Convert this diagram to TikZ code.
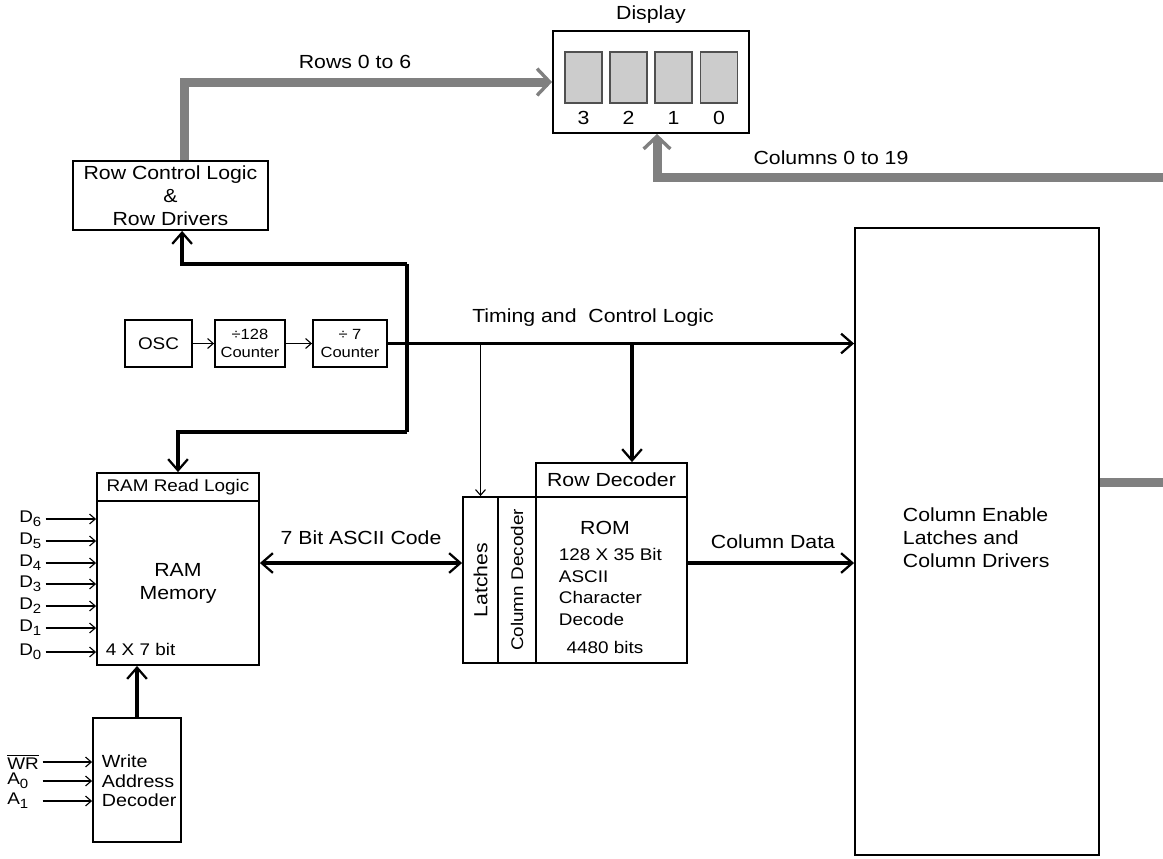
\documentclass[tikz,border=0pt]{standalone}
\usepackage{fontspec}
\setmainfont{Liberation Sans}[FakeStretch=1.12]
\usetikzlibrary{arrows.meta,positioning}
\definecolor{busGrey}{HTML}{808080}
\definecolor{segFill}{HTML}{CCCCCC}
\definecolor{segLine}{HTML}{505050}
\newcommand\lowidx[1]{\raisebox{-0.45ex}{\fontsize{9.5}{9.5}\selectfont #1}}

\begin{document}
\begin{tikzpicture}[
  x=0.025cm,y=-0.025cm,font=\fontsize{13.5}{16.4}\selectfont,
  bustip/.tip={Straight Barb[length=8pt,width=14pt,line width=1.6pt 0]},
  greytip/.tip={Straight Barb[length=9pt,width=19pt,line width=2.4pt 0]},
  sigtip/.tip={Straight Barb[length=4pt,width=7pt,line width=0.8pt 0]},
  blk/.style={draw,line width=1.3pt,inner sep=0pt,align=center},
  seg/.style={draw=segLine,fill=segFill,line width=0.9pt,inner sep=0pt,
              minimum width=0.925cm,minimum height=1.275cm},
  smalltxt/.style={font=\fontsize{12}{15.3}\selectfont},
  cnttxt/.style={font=\fontsize{10.5}{12.5}\selectfont},
  bus/.style={line width=2.8pt,-bustip},
  dbus/.style={line width=2.8pt,bustip-bustip},
  gbus/.style={busGrey,line width=6.4pt,-greytip},
  sig/.style={line width=0.8pt,-sigtip},
  pin/.style={smalltxt,anchor=west,align=left,inner sep=0pt}
]
\useasboundingbox (0,0) rectangle (1163,858);

\node[blk,minimum width=4.9cm,minimum height=2.55cm] (disp) at (651,82) {};
\node (disptxt) at (651,15) {Display};
\foreach \d/\x in {3/583.5,2/628.5,1/673.5,0/719}{
  \node[seg] (seg\d) at (\x,77.5) {};
  \node (dig\d) at (\x,118) {\d};
}

\node[blk,minimum width=4.875cm,minimum height=1.725cm] (rowctl) at (170.5,195.5) {Row Control Logic\\\&\\Row Drivers};

\node[blk,smalltxt,minimum width=1.675cm,minimum height=1.175cm] (osc) at (158.5,343.5) {OSC};
\node[blk,cnttxt,minimum width=1.75cm,minimum height=1.175cm] (div128) at (250,343.5) {÷128\\Counter};
\node[blk,cnttxt,minimum width=1.85cm,minimum height=1.175cm] (div7) at (350,343.5) {÷ 7\\Counter};
\draw[sig] (osc) -- (div128);
\draw[sig] (div128) -- (div7);

\node[blk,smalltxt,minimum width=4.05cm,minimum height=0.7cm] (ramhdr) at (178,487) {RAM Read Logic};
\node[blk,minimum width=4.05cm,minimum height=4.1cm] (ram) at (178,583) {RAM\\Memory};
\node[smalltxt,anchor=west] (ramsize) at (101,649) {4 X 7 bit};

\node[blk,minimum width=2.2cm,minimum height=3.1cm] (wad) at (137,780) {};
\node[anchor=west,align=left,font=\fontsize{12.5}{14}\selectfont] (wadtxt) at (97,781) {Write\\Address\\Decoder};

\node[blk,minimum width=0.875cm,minimum height=4.15cm] (latch) at (480.5,580) {};
\node[rotate=90] (latchtxt) at (latch.center) {Latches};
\node[blk,minimum width=0.95cm,minimum height=4.15cm] (coldec) at (517,580) {};
\node[rotate=90,smalltxt] (coldectxt) at (coldec.center) {Column Decoder};
\node[blk,minimum width=3.775cm,minimum height=0.85cm] (rowdec) at (611.5,480) {Row Decoder};
\node[blk,minimum width=3.775cm,minimum height=4.15cm] (rom) at (611.5,580) {};
\node (romtitle) at (605,528) {ROM};
\node[smalltxt,anchor=west,align=left] (romtxt) at (554,587) {128 X 35 Bit\\ASCII\\Character\\Decode};
\node[smalltxt] (rombits) at (605,647) {4480 bits};

\node[blk,minimum width=6.1cm,minimum height=15.675cm] (colen) at (977,541.5) {};
\node[anchor=west,align=left] (colentxt) at (898,538) {Column Enable\\Latches and\\Column Drivers};

\foreach \i/\y in {6/519,5/541,4/563,3/584,2/606,1/628,0/652}{
  \node[pin,text width=0.65cm] (d\i) at (19,\y) {D\lowidx{\i}};
  \draw[sig] (d\i.east) -- (ram.west |- d\i.east);
}
\node[pin,text width=0.875cm] (wr) at (7,762) {$\overline{\mbox{WR}}$};
\node[pin,text width=0.875cm] (a0) at (7,781) {A\lowidx{0}};
\node[pin,text width=0.875cm] (a1) at (7,801) {A\lowidx{1}};
\foreach \p in {wr,a0,a1}
  \draw[sig] (\p.east) -- (wad.west |- \p.east);

\coordinate (busup) at (407,264);
\coordinate (busdown) at (407,432);
\coordinate (romtap) at (632,344);
\coordinate (asc) at (360,563);
\coordinate (colsin) at (1163,177);
\coordinate (colsout) at (1163,482);

\draw[gbus] ([xshift=0.34cm]rowctl.north) |- (disp.west);
\node (rowslbl) at (355,62) {Rows 0 to 6};
\draw[gbus] (colsin) -| ([xshift=0.15cm]disp.south);
\node (colslbl) at (831,158) {Columns 0 to 19};
\draw[busGrey,line width=6.4pt] (colen.east |- colsout) -- (colsout);

\draw[bus] (div7.east) -- (colen.west |- div7.east);
\node (timlbl) at (593,318) {Timing and~~Control Logic};
\draw[line width=2.8pt] (busup) -- (busdown);
\draw[bus] (busup) -| ([xshift=0.29cm]rowctl.south);
\draw[bus] (busdown) -| (ramhdr.north);
\draw[bus] (romtap) -- (romtap |- rowdec.north);
\draw[sig] (latch.north |- div7.east) -- (latch.north);
\draw[bus] (wad.north) -- (wad.north |- ram.south);

\draw[dbus] (ram.east |- asc) -- (latch.west |- asc);
\node (asclbl) at (361,538) {7 Bit ASCII Code};
\draw[bus] (rom.east |- asc) -- (colen.west |- asc);
\node (cdlbl) at (773,542) {Column Data};
\end{tikzpicture}
\end{document}
